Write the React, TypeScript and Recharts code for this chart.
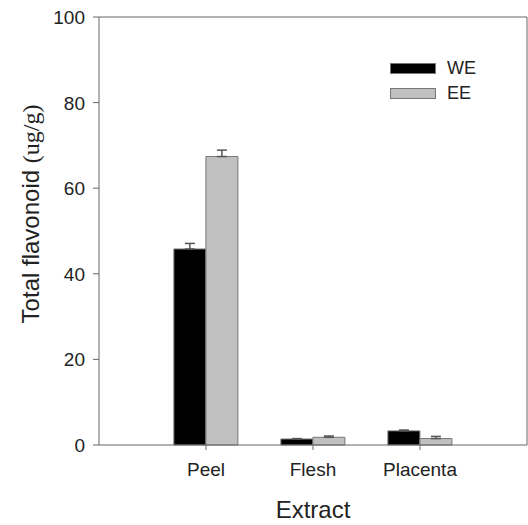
import * as React from 'react'
import { Bar, BarChart, ErrorBar, XAxis, YAxis } from 'recharts'

const categories = ['Peel', 'Flesh', 'Placenta']
const weValues = [45.8, 1.4, 3.3]
const weErrors = [1.3, 0.1, 0.2]
const eeValues = [67.4, 1.8, 1.5]
const eeErrors = [1.5, 0.3, 0.5]
const yTicks = [0, 20, 40, 60, 80, 100]

const data = categories.map((name, i) => ({
  name,
  WE: weValues[i],
  weErr: [0, weErrors[i]],
  EE: eeValues[i],
  eeErr: [0, eeErrors[i]],
}))

const FONT = '"Liberation Sans", Arial, sans-serif'
const AXIS = '#666'

const legendItems = [
  { label: 'WE', fill: '#000000' },
  { label: 'EE', fill: '#c0c0c0' },
]

// legend sits inside the plot, top right, so it is drawn as an overlay
const LegendBox = () => (
  <svg width={90} height={45} style={{ position: 'absolute', left: 390, top: 63, overflow: 'visible' }}>
    {legendItems.map((it, i) => (
      <g key={it.label} transform={`translate(0, ${i * 25})`}>
        <rect x={0.5} y={0.5} width={45} height={10} fill={it.fill} stroke="#777" />
        <text x={57} y={11} fontFamily={FONT} fontSize={18} fill="#222">{it.label}</text>
      </g>
    ))}
  </svg>
)

const YLabel = () => (
  <text
    transform="translate(39, 214) rotate(-90)"
    textAnchor="middle"
    fontFamily={FONT}
    fontSize={24}
    fill="#222"
  >
    Total flavonoid <tspan fontFamily='"Liberation Serif", "Times New Roman", serif'>(ug/g)</tspan>
  </text>
)

const YTick = (props: any) => {
  const { x, y, payload } = props
  return (
    <text x={x - 6} y={y} dy={7} textAnchor="end" fontFamily={FONT} fontSize={19} fill="#222">
      {payload.value}
    </text>
  )
}

export default function App() {
  return (
    <div style={{ position: 'absolute', left: 0, top: 0, width: 528, height: 525 }}>
      <BarChart
        width={528}
        height={525}
        data={data}
        margin={{ top: 16, right: 0, bottom: 0, left: 0 }}
        barGap={0}
        barCategoryGap="20%"
      >
        <XAxis
          dataKey="name"
          height={80}
          padding={{ left: 53.5, right: 53.5 }}
          stroke={AXIS}
          tickLine={{ stroke: AXIS }}
          tickSize={5}
          tick={{ fontFamily: FONT, fontSize: 19, fill: '#222', dy: 11 }}
          label={{ value: 'Extract', position: 'insideBottom', offset: 7, fontFamily: FONT, fontSize: 24, fill: '#222' }}
        />
        <XAxis xAxisId="top" dataKey="name" orientation="top" height={1} tick={false} tickLine={false} axisLine={{ stroke: AXIS }} />
        <YAxis
          width={99}
          domain={[0, 100]}
          ticks={yTicks}
          stroke={AXIS}
          tickLine={{ stroke: AXIS }}
          tickSize={6}
          tick={<YTick />}
          label={<YLabel />}
        />
        <YAxis yAxisId="right" orientation="right" width={1} domain={[0, 100]} tick={false} tickLine={false} axisLine={{ stroke: AXIS }} />
        <Bar dataKey="WE" fill="#000000" stroke="#777" isAnimationActive={false}>
          <ErrorBar dataKey="weErr" direction="y" width={5} stroke="#555" isAnimationActive={false} />
        </Bar>
        <Bar dataKey="EE" fill="#c0c0c0" stroke="#777" isAnimationActive={false}>
          <ErrorBar dataKey="eeErr" direction="y" width={5} stroke="#555" isAnimationActive={false} />
        </Bar>
      </BarChart>
      <LegendBox />
    </div>
  )
}
